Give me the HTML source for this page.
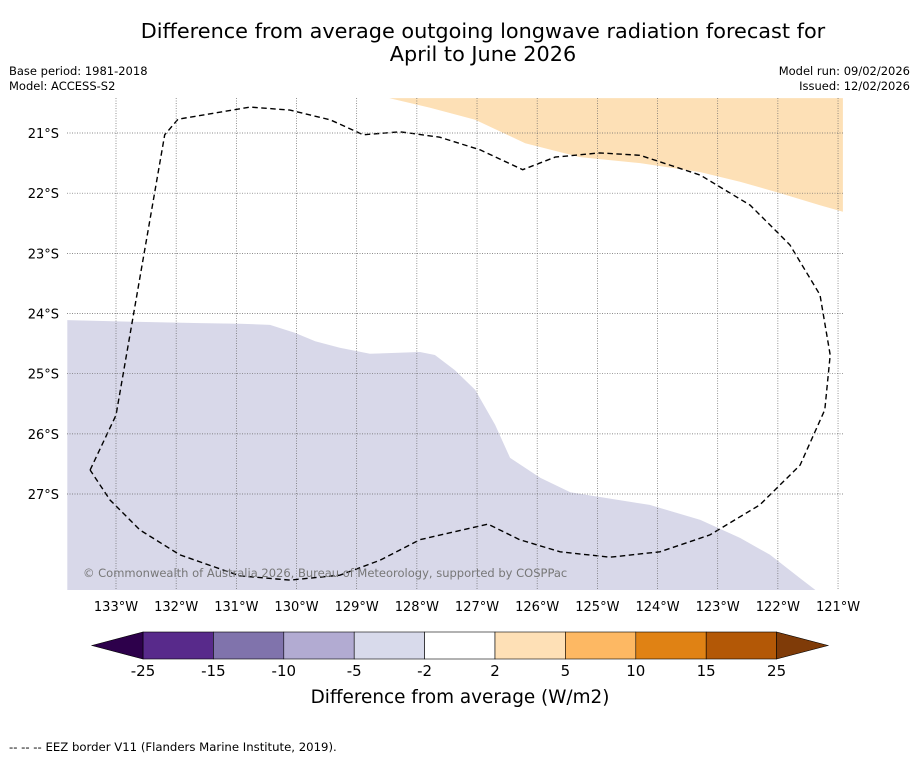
<!DOCTYPE html>
<html><head><meta charset="utf-8"><style>
body{margin:0;background:#fff;font-family:"DejaVu Sans","Liberation Sans",sans-serif;}
svg text{font-family:"DejaVu Sans","Liberation Sans",sans-serif;}
</style></head><body>
<svg id="chart" width="919" height="758" viewBox="0 0 919 758" xmlns="http://www.w3.org/2000/svg">
<rect width="919" height="758" fill="#fff"/>
<text x="483" y="38" font-size="20.8" text-anchor="middle">Difference from average outgoing longwave radiation forecast for</text>
<text x="483" y="61" font-size="20.8" text-anchor="middle">April to June 2026</text>
<text x="9" y="75" font-size="11.5">Base period: 1981-2018</text>
<text x="9" y="90" font-size="11.5">Model: ACCESS-S2</text>
<text x="910" y="75" font-size="11.5" text-anchor="end">Model run: 09/02/2026</text>
<text x="910" y="90" font-size="11.5" text-anchor="end">Issued: 12/02/2026</text>
<defs><clipPath id="mapclip"><rect x="67" y="98" width="776" height="492"/></clipPath></defs>
<g id="map" clip-path="url(#mapclip)"></g>
<g id="grid"></g>
<g id="labels"></g>
<text x="83" y="577" font-size="11.5" fill="#777">© Commonwealth of Australia 2026, Bureau of Meteorology, supported by COSPPac</text>
<g id="cbar"></g>
<text x="460" y="703" font-size="18.4" text-anchor="middle">Difference from average (W/m2)</text>
<text x="9" y="751" font-size="11.7">--  --  -- EEZ border V11 (Flanders Marine Institute, 2019).</text>
</svg>
<script>
const lonTicks=[-133,-132,-131,-130,-129,-128,-127,-126,-125,-124,-123,-122,-121];
const latTicks=[-21,-22,-23,-24,-25,-26,-27];
const eezLon=[-133.43,-133.00,-132.19,-131.97,-130.77,-130.11,-129.44,-128.89,-128.28,-127.62,-126.95,-126.24,-125.70,-124.96,-124.29,-123.29,-122.46,-121.80,-121.30,-121.13,-121.22,-121.63,-122.30,-123.13,-123.96,-124.79,-125.62,-126.29,-126.82,-127.95,-128.61,-129.28,-130.11,-130.94,-131.94,-132.60,-133.10,-133.43];
const eezLat=[-26.60,-25.69,-21.03,-20.77,-20.57,-20.62,-20.78,-21.03,-20.98,-21.07,-21.28,-21.61,-21.40,-21.33,-21.37,-21.70,-22.20,-22.86,-23.69,-24.69,-25.60,-26.52,-27.18,-27.68,-27.96,-28.05,-27.96,-27.76,-27.50,-27.76,-28.10,-28.35,-28.43,-28.36,-28.01,-27.60,-27.10,-26.60];
const negLon=[-121.37,-121.63,-122.13,-122.63,-123.29,-124.13,-124.96,-125.45,-125.95,-126.45,-126.70,-127.03,-127.37,-127.70,-127.95,-128.78,-129.28,-129.69,-130.03,-130.44,-130.94,-131.60,-132.60,-133.81,-133.81];
const negLat=[-28.60,-28.40,-28.01,-27.73,-27.43,-27.18,-27.05,-26.97,-26.73,-26.40,-25.85,-25.27,-24.94,-24.69,-24.64,-24.67,-24.57,-24.46,-24.32,-24.19,-24.17,-24.16,-24.14,-24.11,-28.60];
const posLon=[-128.46,-127.78,-127.03,-126.20,-125.29,-124.29,-123.29,-122.63,-121.96,-121.30,-120.92,-120.92];
const posLat=[-20.42,-20.58,-20.78,-21.17,-21.40,-21.50,-21.65,-21.81,-22.00,-22.20,-22.31,-20.42];
const cbBounds=[-25,-15,-10,-5,-2,2,5,10,15,25];
const cbColors=["#582a8b","#8073ac","#b2abd2","#d8daeb","#ffffff","#fee0b6","#fdb863","#e08214","#b35806"];
const NS="http://www.w3.org/2000/svg";
const PX=60.17;
function xs(lon){return 116+(lon+133)*PX;}
function ys(lat){return 133+(-21-lat)*PX;}
function mk(t,a,p){const e=document.createElementNS(NS,t);for(const k in a)e.setAttribute(k,a[k]);p.appendChild(e);return e;}
function pts(lo,la){return lo.map((v,i)=>xs(v).toFixed(1)+","+ys(la[i]).toFixed(1)).join(" ");}
const map=document.getElementById('map');
let p=mk('polygon',{points:pts(negLon,negLat),fill:"#d8d8e9"},map);


p=mk('polygon',{points:pts(posLon,posLat),fill:"#fde0b6"},map);


const grid=document.getElementById('grid');
lonTicks.forEach(l=>{const x=xs(l);if(x<67||x>843)return;const e=mk('line',{x1:x,x2:x,y1:98,y2:590,stroke:"#666","stroke-width":0.7,"stroke-dasharray":"1,1.5"},grid);

});
latTicks.forEach(l=>{const y=ys(l);const e=mk('line',{x1:67,x2:843,y1:y,y2:y,stroke:"#666","stroke-width":0.7,"stroke-dasharray":"1,1.5"},grid);

});
p=mk('polyline',{points:pts(eezLon,eezLat),fill:"none",stroke:"#000","stroke-width":1.4,"stroke-dasharray":"5.5,3.5"},map);


const lab=document.getElementById('labels');
lonTicks.forEach(l=>{const t=mk('text',{x:xs(l),y:611,"font-size":13,"text-anchor":"middle"},lab);t.textContent=Math.abs(l)+"°W";

});
latTicks.forEach(l=>{const t=mk('text',{x:59,y:ys(l)+5,"font-size":13,"text-anchor":"end"},lab);t.textContent=Math.abs(l)+"°S";

});
const cb=document.getElementById('cbar');
const cx0=143,cw=70.4,cy=632,ch=27;
cbColors.forEach((c,i)=>{const r=mk('rect',{x:cx0+i*cw,y:cy,width:cw,height:ch,fill:c,stroke:"#000","stroke-width":0.6},cb);

});
let tri=mk('polygon',{points:`${cx0},${cy} ${cx0},${cy+ch} 92,${cy+ch/2}`,fill:"#2d004b",stroke:"#000","stroke-width":0.6},cb);


const xe=cx0+cbColors.length*cw;
tri=mk('polygon',{points:`${xe},${cy} ${xe},${cy+ch} 828,${cy+ch/2}`,fill:"#7f3b08",stroke:"#000","stroke-width":0.6},cb);


cbBounds.forEach((b,i)=>{const t=mk('text',{x:cx0+i*cw,y:676,"font-size":15,"text-anchor":"middle"},cb);t.textContent=b;

});
</script>
</body></html>
